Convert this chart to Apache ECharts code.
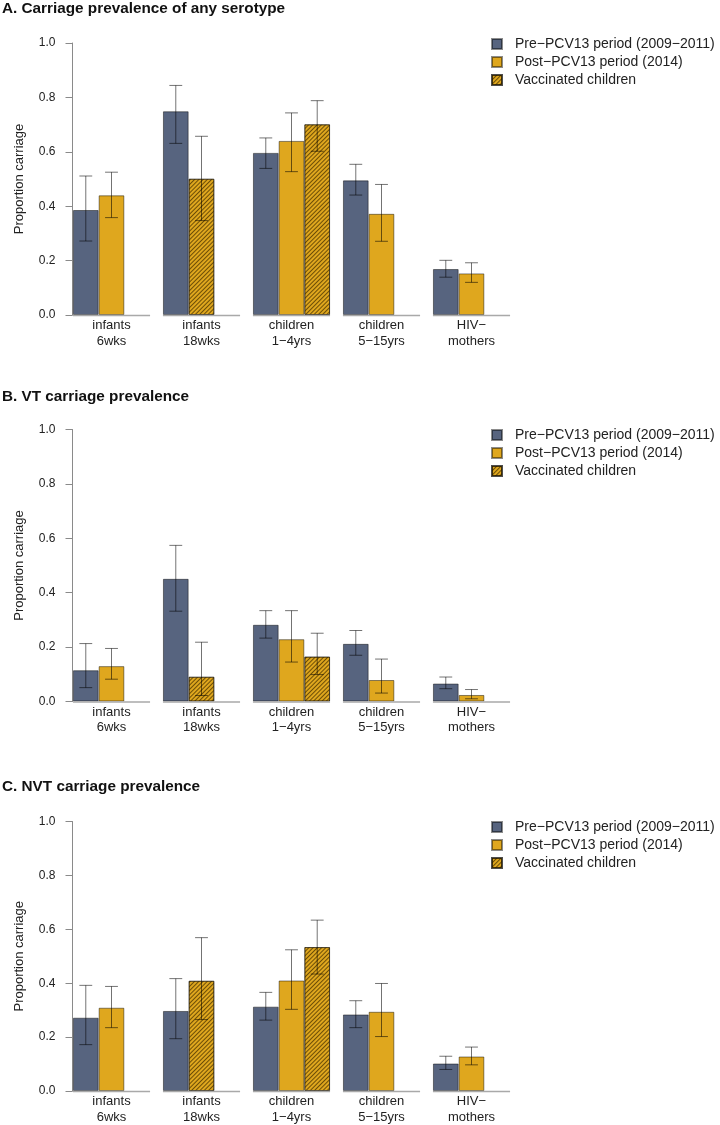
<!DOCTYPE html>
<html>
<head>
<meta charset="utf-8">
<script src="https://cdn.jsdelivr.net/npm/echarts@6/dist/echarts.min.js"></script>
<style>
html,body{margin:0;padding:0;background:#fff;}
#chart{width:720px;height:1125px;}
</style>
</head>
<body>
<div id="chart"></div>
<script>
// ---------- data ----------
const categories = ['infants\n6wks', 'infants\n18wks', 'children\n1\u22124yrs', 'children\n5\u221215yrs', 'HIV\u2212\nmothers'];
const panelTitles = ['A. Carriage prevalence of any serotype', 'B. VT carriage prevalence', 'C. NVT carriage prevalence'];
const seriesNames = ['Pre\u2212PCV13 period (2009\u22122011)', 'Post\u2212PCV13 period (2014)', 'Vaccinated children'];
const yTickValues = [0, 0.2, 0.4, 0.6, 0.8, 1.0];

// Panel A: any serotype
const preA    = [0.386, 0.749, 0.596, 0.495, 0.169];
const preALo  = [0.272, 0.631, 0.539, 0.441, 0.139];
const preAHi  = [0.511, 0.844, 0.651, 0.554, 0.201];
const postA   = [0.440, null, 0.640, 0.372, 0.153];
const postALo = [0.358, null, 0.527, 0.271, 0.120];
const postAHi = [0.525, null, 0.743, 0.480, 0.192];
const vacA    = [null, 0.501, 0.701, null, null];
const vacALo  = [null, 0.347, 0.602, null, null];
const vacAHi  = [null, 0.657, 0.788, null, null];

// Panel B: VT
const preB    = [0.115, 0.451, 0.282, 0.212, 0.066];
const preBLo  = [0.051, 0.332, 0.233, 0.170, 0.047];
const preBHi  = [0.213, 0.574, 0.334, 0.261, 0.090];
const postB   = [0.130, null, 0.229, 0.079, 0.024];
const postBLo = [0.082, null, 0.145, 0.031, 0.010];
const postBHi = [0.195, null, 0.334, 0.156, 0.044];
const vacB    = [null, 0.091, 0.165, null, null];
const vacBLo  = [null, 0.022, 0.099, null, null];
const vacBHi  = [null, 0.218, 0.251, null, null];

// Panel C: NVT
const preC    = [0.272, 0.297, 0.313, 0.284, 0.102];
const preCLo  = [0.172, 0.194, 0.263, 0.235, 0.080];
const preCHi  = [0.392, 0.417, 0.366, 0.335, 0.129];
const postC   = [0.309, null, 0.410, 0.294, 0.128];
const postCLo = [0.235, null, 0.303, 0.202, 0.097];
const postCHi = [0.388, null, 0.524, 0.399, 0.163];
const vacC    = [null, 0.409, 0.534, null, null];
const vacCLo  = [null, 0.265, 0.434, null, null];
const vacCHi  = [null, 0.569, 0.634, null, null];

const panels = [
  {pre: preA, preLo: preALo, preHi: preAHi, post: postA, postLo: postALo, postHi: postAHi, vac: vacA, vacLo: vacALo, vacHi: vacAHi},
  {pre: preB, preLo: preBLo, preHi: preBHi, post: postB, postLo: postBLo, postHi: postBHi, vac: vacB, vacLo: vacBLo, vacHi: vacBHi},
  {pre: preC, preLo: preCLo, preHi: preCHi, post: postC, postLo: postCLo, postHi: postCHi, vac: vacC, vacLo: vacCLo, vacHi: vacCHi}
];

// ---------- styling / layout ----------
const FONT = '"Liberation Sans", Arial, Helvetica, sans-serif';
const BLUE = '#57647f';
const GOLD = '#dfa71e';
const BORDER = 'rgba(0,0,0,0.45)';
const ERR = 'rgba(0,0,0,0.55)';
const BAR_FRAC = 0.2856;
const gridTops = [43, 429.5, 821.5];
const titleTops = [1.5, 389, 779.5];
const legendTops = [37, 428, 820];
const hatch = {
  symbol: 'rect', symbolSize: 1, color: 'rgba(80,55,0,0.8)',
  dashArrayX: [1, 0], dashArrayY: [1, 2], rotation: -Math.PI / 4
};

const chart = echarts.init(document.getElementById('chart'), null, {renderer: 'canvas'});

const grid = [], xAxis = [], yAxis = [], series = [], title = [], legend = [];

panels.forEach((P, p) => {
  grid.push({left: 66.5, width: 450, top: gridTops[p], height: 272});
  title.push({
    text: panelTitles[p], left: 2, top: titleTops[p], padding: 0,
    textStyle: {fontFamily: FONT, fontSize: 15.3, fontWeight: 'bold', color: '#111'}
  });
  legend.push({
    data: seriesNames, orient: 'vertical', left: 491, top: legendTops[p], padding: 0,
    itemWidth: 10, itemHeight: 10, itemGap: 4, icon: 'rect', selectedMode: false,
    textStyle: {fontFamily: FONT, fontSize: 14, color: '#222', padding: [0, 0, 0, 8]}
  });
  xAxis.push({
    type: 'category', gridIndex: p, data: categories,
    axisLine: {show: false}, axisTick: {show: false},
    axisLabel: {fontFamily: FONT, fontSize: 13, color: '#222', lineHeight: 15.5, margin: 3, interval: 0}
  });
  yAxis.push({
    type: 'value', gridIndex: p, min: yTickValues[0], max: yTickValues[yTickValues.length - 1], interval: 0.2,
    offset: -6,
    name: 'Proportion carriage', nameLocation: 'middle', nameGap: 47,
    nameTextStyle: {fontFamily: FONT, fontSize: 13, color: '#222'},
    axisLine: {show: true, lineStyle: {color: '#8a8a8a', width: 1}},
    axisTick: {show: true, length: 7, lineStyle: {color: '#8a8a8a'}},
    splitLine: {show: false},
    axisLabel: {fontFamily: FONT, fontSize: 12, color: '#222', margin: 17, formatter: v => v.toFixed(1)}
  });

  const vacSlot2 = P.vac.map((v, i) => (P.post[i] == null ? v : null));
  const vacSlot3 = P.vac.map((v, i) => (P.post[i] == null ? null : v));
  const barCommon = {
    type: 'bar', xAxisIndex: p, yAxisIndex: p, barWidth: (BAR_FRAC * 100) + '%', barGap: 0,
    emphasis: {disabled: true}, animation: false
  };
  series.push(Object.assign({}, barCommon, {
    name: seriesNames[0], stack: 'p' + p + 's1', data: P.pre,
    itemStyle: {color: BLUE, borderColor: BORDER, borderWidth: 1}
  }));
  series.push(Object.assign({}, barCommon, {
    name: seriesNames[1], stack: 'p' + p + 's2', data: P.post,
    itemStyle: {color: GOLD, borderColor: BORDER, borderWidth: 1}
  }));
  series.push(Object.assign({}, barCommon, {
    name: seriesNames[2], stack: 'p' + p + 's2', data: vacSlot2,
    itemStyle: {color: GOLD, borderColor: BORDER, borderWidth: 1, decal: hatch}
  }));
  series.push(Object.assign({}, barCommon, {
    name: seriesNames[2], stack: 'p' + p + 's3', data: vacSlot3,
    itemStyle: {color: GOLD, borderColor: BORDER, borderWidth: 1, decal: hatch}
  }));

  // group baselines
  series.push({
    type: 'custom', xAxisIndex: p, yAxisIndex: p, silent: true, z: 5, animation: false,
    data: categories.map((c, i) => [i, 0]), encode: {x: 0, y: 1},
    renderItem: (params, api) => {
      const c = api.coord([api.value(0), 0]);
      const bw = api.size([1, 0])[0] * BAR_FRAC;
      return {type: 'line', shape: {x1: c[0] - 1.5 * bw, y1: c[1] + 0.5, x2: c[0] + 1.5 * bw, y2: c[1] + 0.5},
              style: {stroke: '#a9a9a9', lineWidth: 1.5}};
    }
  });

  // error bars
  const errData = [];
  categories.forEach((c, i) => {
    if (P.pre[i] != null) errData.push([i, P.preLo[i], P.preHi[i], 0]);
    if (P.post[i] != null) errData.push([i, P.postLo[i], P.postHi[i], 1]);
    if (P.vac[i] != null) errData.push([i, P.vacLo[i], P.vacHi[i], P.post[i] == null ? 1 : 2]);
  });
  series.push({
    type: 'custom', xAxisIndex: p, yAxisIndex: p, silent: true, z: 6, animation: false,
    data: errData, encode: {x: 0, y: [1, 2]},
    renderItem: (params, api) => {
      const lo = api.coord([api.value(0), api.value(1)]);
      const hi = api.coord([api.value(0), api.value(2)]);
      const bw = api.size([1, 0])[0] * BAR_FRAC;
      const x = lo[0] + (api.value(3) - 1) * bw;
      const hw = bw * 0.25;
      const st = {stroke: ERR, lineWidth: 1};
      return {type: 'group', children: [
        {type: 'line', shape: {x1: x, y1: lo[1], x2: x, y2: hi[1]}, style: st},
        {type: 'line', shape: {x1: x - hw, y1: lo[1], x2: x + hw, y2: lo[1]}, style: st},
        {type: 'line', shape: {x1: x - hw, y1: hi[1], x2: x + hw, y2: hi[1]}, style: st}
      ]};
    }
  });
});

chart.setOption({
  animation: false,
  backgroundColor: '#ffffff',
  title, legend, grid, xAxis, yAxis, series
});
</script>
</body>
</html>
